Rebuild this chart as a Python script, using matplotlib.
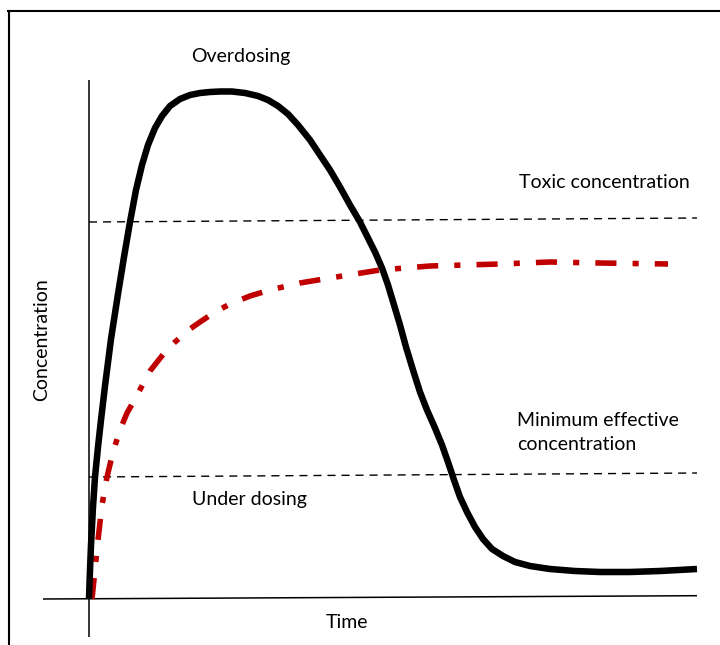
import matplotlib
matplotlib.use("Agg")
import matplotlib.pyplot as plt
from matplotlib.lines import Line2D

plt.rcParams['font.family'] = ['Lato', 'DejaVu Sans']

# Arbitrary units (schematic chart): time 0..608, concentration 0..~508
# Overdosing curve (black)
od_t = [0, 1, 2, 4, 6, 9, 12, 16, 22, 29, 35, 41, 47, 53, 59, 66, 73, 81, 91,
        101, 111, 121, 131, 143, 156, 169, 179, 189, 199, 209, 221, 231, 241,
        251, 261, 271, 279, 286, 293, 299, 305, 311, 317, 324, 331, 338, 346,
        353, 359, 365, 371, 378, 386, 394, 403, 414, 426, 441, 461, 486, 511,
        541, 571, 608]
od_c = [0, 29, 54, 92, 122, 152, 179, 213, 260, 305, 342, 377, 409, 434, 454,
        471, 483, 493, 500, 504, 506, 507, 507.5, 507.5, 506, 503, 499, 493,
        485, 474, 459, 444, 429, 412, 394, 377, 361, 347, 331, 314, 294, 274,
        252, 229, 207, 189, 171, 154, 137, 119, 102, 87, 72, 60, 50, 43, 37,
        33, 30, 28, 27, 27, 28, 30]

# Proper dosing curve (red dash-dot)
pd_t = [3, 6, 9, 13, 18, 24, 31, 38, 46, 61, 76, 86, 101, 111, 126, 141, 161,
        181, 211, 241, 291, 341, 411, 461, 511, 579]
pd_c = [0, 29, 59, 94, 122, 147, 169, 186, 200, 228, 247, 257, 270, 277, 287,
        295, 303, 309, 316, 321, 329, 333, 335, 337, 336, 335]

# Threshold lines (start, end)
toxic_t = [0, 608]
toxic_c = [377, 381]
mec_t = [0, 608]
mec_c = [122, 126]

labels = {
    "over": "Overdosing",
    "toxic": "Toxic concentration",
    "mec": "Minimum effective\nconcentration",
    "under": "Under dosing",
    "x": "Time",
    "y": "Concentration",
}

fig = plt.figure(figsize=(7.2, 6.45), dpi=100)
ax = fig.add_axes([0, 0, 1, 1])
ax.set_xlim(-89, 631)
ax.set_ylim(-46, 599)
ax.axis('off')

# axes lines
ax.plot([-46, 608], [0, 3.3], color='black', lw=1.1, solid_capstyle='butt')
ax.plot([0, 0], [-38, 519], color='black', lw=1.1, solid_capstyle='butt')

# threshold lines
ax.plot(toxic_t, toxic_c, color='black', lw=1.0, dashes=(5.8, 4.3))
ax.plot(mec_t, mec_c, color='black', lw=1.0, dashes=(5.8, 4.3))

# curves
ax.plot(pd_t, pd_c, color='#C00000', lw=4.0, dashes=(3.8, 2.9, 1.1, 2.9),
        dash_capstyle='butt', dash_joinstyle='round')
ax.plot(od_t, od_c, color='black', lw=4.7, solid_capstyle='butt',
        solid_joinstyle='round')

fs = 14
ax.text(152, 537, labels["over"], ha='center', va='baseline', fontsize=fs)
ax.text(430, 417, labels["toxic"], ha='left', va='center', fontsize=fs)
ax.text(428, 166, labels["mec"], ha='left', va='center', fontsize=fs,
        linespacing=1.5)
ax.text(160, 99, labels["under"], ha='center', va='center', fontsize=fs)
ax.text(258, -24, labels["x"], ha='center', va='center', fontsize=fs)
ax.text(-47, 259, labels["y"], ha='center', va='center', fontsize=fs,
        rotation=90)

# outer frame (top and left)
fig.add_artist(Line2D([8 / 720, 1.0], [1 - 11 / 645, 1 - 11 / 645],
                      transform=fig.transFigure, color='black', lw=1.5))
fig.add_artist(Line2D([9 / 720, 9 / 720], [0.0, 1 - 11 / 645],
                      transform=fig.transFigure, color='black', lw=1.5))

fig.savefig("out.png", dpi=100)
